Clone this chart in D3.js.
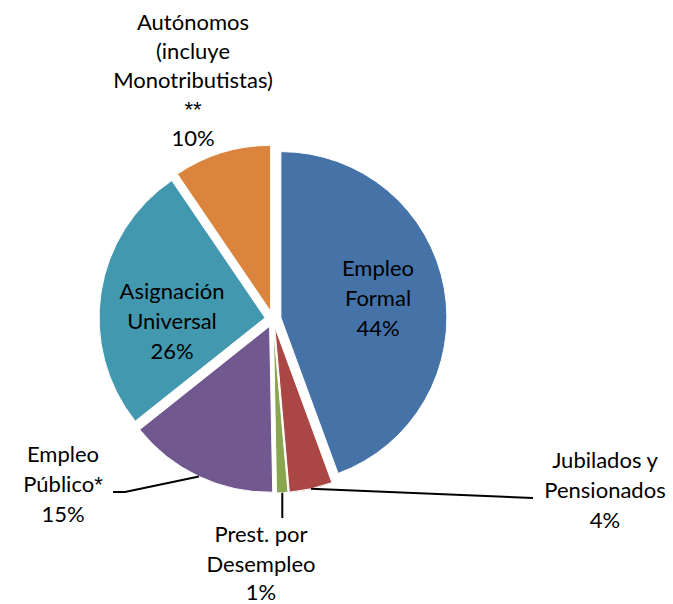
<!DOCTYPE html>
<html>
<head>
<meta charset="utf-8">
<script src="https://cdn.jsdelivr.net/npm/d3@7"></script>
<style>
	body{margin:0;background:#fff;}
	text{font-family:Lato, "Noto Sans", sans-serif;fill:#000;}
	.star{font-family:"Liberation Sans", sans-serif;}
</style>
</head>
<body>
<svg id="chart" width="673" height="604"></svg>
<script>
// data (slice shares in %)
const categories = ["Empleo Formal", "Jubilados y Pensionados", "Prest. por Desempleo", "Empleo Público*", "Asignación Universal", "Autónomos (incluye Monotributistas) **"];
const shares = [44.4, 4.2, 1.1, 14.6, 26.2, 9.5];
const colors = ["#4572A7", "#AA4643", "#89A54E", "#71588F", "#4198AF", "#DB843D"];
const labelLines = [
	["Empleo", "Formal"],
	["Jubilados y", "Pensionados"],
	["Prest. por", "Desempleo"],
	["Empleo", "Público*"],
	["Asignación", "Universal"],
	["Autónomos", "(incluye", "Monotributistas)", "**"]
];

const width = 673,
	height = 604,
	cx = 273,
	cy = 319,
	radius = 166,
	explode = 8,
	lineH = 30;

// label anchor (x = centre of text, y = first baseline) and leader end
const labelPos = [
	{x: 378, y: 276},
	{x: 605, y: 468, leader: [[533, 498]]},
	{x: 261, y: 542, leader: [[null, 518]]},
	{x: 63, y: 462, leader: [[125, 492], [113, 492]]},
	{x: 172, y: 299},
	{x: 193, y: 30, gap: 29}
];

const svg = d3.select("#chart");
const data = categories.map(function(c, i){
	return {name: c, value: shares[i], color: colors[i], lines: labelLines[i], pos: labelPos[i]};
});

const pie = d3.pie().sort(null).value(function(d){return d.value;});
const arc = d3.arc().innerRadius(0).outerRadius(radius);
const arcs = pie(data);

function offset(a){
	let mid = (a.startAngle + a.endAngle) / 2;
	return [Math.sin(mid) * explode, -Math.cos(mid) * explode];
}

const g = svg.append("g").attr("transform", "translate(" + cx + "," + cy + ")");

g.selectAll("path.slice")
	.data(arcs)
	.enter()
	.append("path")
	.attr("class", "slice")
	.attr("transform", function(d){
		let o = offset(d);
		return "translate(" + o[0] + "," + o[1] + ")";
	})
	.attr("d", arc)
	.attr("fill", function(d){return d.data.color;})
	.attr("stroke", "#fff")
	.attr("stroke-width", 1);

// leader lines from the middle of the slice edge
arcs.forEach(function(a){
	let p = a.data.pos;
	if(!p.leader) return;
	let mid = (a.startAngle + a.endAngle) / 2,
		o = offset(a),
		sx = cx + o[0] + Math.sin(mid) * radius,
		sy = cy + o[1] - Math.cos(mid) * radius,
		pts = [[sx, sy]];
	p.leader.forEach(function(q){
		pts.push([q[0] === null ? sx : q[0], q[1]]);
	});
	svg.append("path")
		.attr("d", d3.line()(pts))
		.attr("fill", "none")
		.attr("stroke", "#000")
		.attr("stroke-width", 2);
});

// labels
arcs.forEach(function(a){
	let p = a.data.pos,
		gap = p.gap || lineH,
		lines = a.data.lines.concat([Math.round(a.data.value) + "%"]);
	lines.forEach(function(l, i){
		let t = svg.append("text")
			.attr("text-anchor", "middle")
			.attr("font-size", "22px")
			.attr("x", p.x)
			.attr("y", Math.min(p.y + i * gap, 600));
		// asterisks drawn in a font where they are not tiny
		l.split(/(\*+)/).forEach(function(part){
			if(!part) return;
			t.append("tspan")
				.attr("class", part[0] === "*" ? "star" : null)
				.text(part);
		});
	});
});
</script>
</body>
</html>
